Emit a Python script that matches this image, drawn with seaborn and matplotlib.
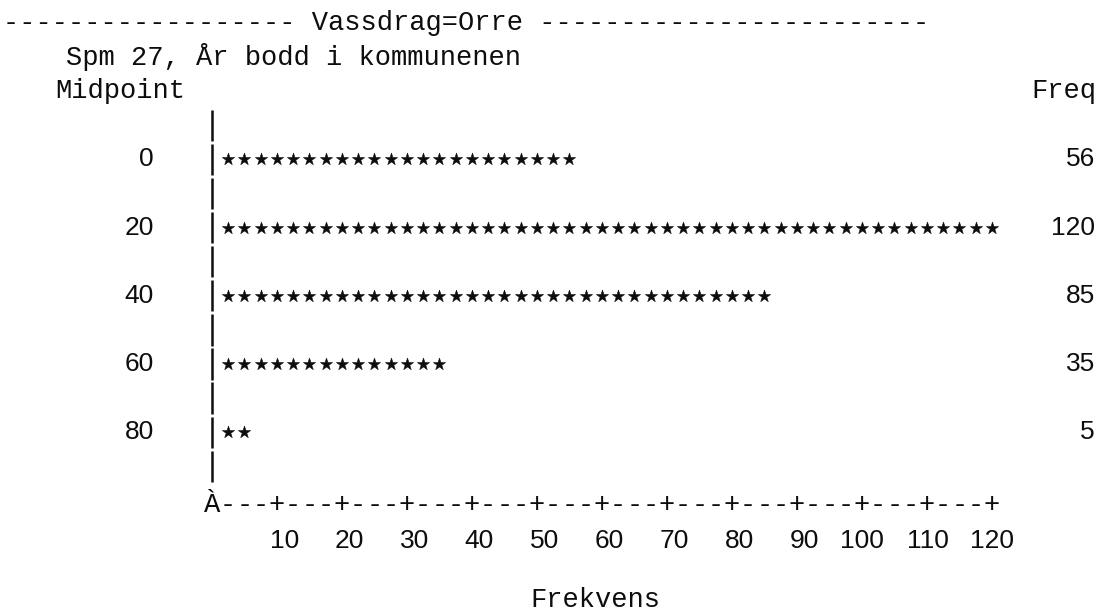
import matplotlib
matplotlib.use("Agg")
import matplotlib.pyplot as plt
import numpy as np
import pandas as pd
import seaborn as sns

# --- chart data -------------------------------------------------------------
midpoints = [0, 20, 40, 60, 80]
freqs = [56, 120, 85, 35, 5]
x_ticks = [10, 20, 30, 40, 50, 60, 70, 80, 90, 100, 110, 120]
group_title = "Vassdrag=Orre"
variable_label = "Spm 27, År bodd i kommunenen"
x_label = "Frekvens"
row_header = "Midpoint"
freq_header = "Freq"
units_per_symbol = 2.5   # frequency represented by one '*' / one character column

# --- styling ----------------------------------------------------------------
sns.set_theme(style="white")
MONO = ["Liberation Mono", "DejaVu Sans Mono"]
SANS = ["Liberation Sans", "DejaVu Sans"]
plt.rcParams["font.family"] = MONO
MONO_SIZE = 19.5
SANS_SIZE = 19
INK = "#0d0d0d"

W, H = 1098, 616
fig = plt.figure(figsize=(W / 100, H / 100), dpi=100)
ax = fig.add_axes([0, 0, 1, 1])

# pixel layout of the text grid (one character column = 2.5 units, one line = 10 units)
X0_PX, PX_PER_X = 212.0, 6.5
Y0_PX, PX_PER_Y = 159.4, 3.41
LINE = 10


def px_x(p):
    return (p - X0_PX) / PX_PER_X


# --- the star bars ----------------------------------------------------------
rows = []
for mid, f in zip(midpoints, freqs):
    n = int(round(f / units_per_symbol))
    for k in range(1, n + 1):
        rows.append({"freq_pos": k * units_per_symbol, "midpoint": mid})
stars = pd.DataFrame(rows)

sns.scatterplot(data=stars, x="freq_pos", y="midpoint", marker="*", s=85,
                color=INK, edgecolor=INK, linewidth=0.4, legend=False, ax=ax)

# --- vertical axis drawn as stacked '|' strokes -----------------------------
seg_centres = np.arange(midpoints[0] - LINE, midpoints[-1] + 2 * LINE, LINE)
ax.vlines(np.zeros_like(seg_centres, dtype=float), seg_centres - 4.6, seg_centres + 4.6,
          color=INK, lw=1.8)

# --- horizontal axis: À---+---+ ... ------------------------------------------
axis_y = midpoints[-1] + 2 * LINE + 1.4
n_cols = int(round(max(x_ticks) / units_per_symbol))
cols_per_tick = int(round((x_ticks[1] - x_ticks[0]) / units_per_symbol))
for c in range(0, n_cols + 1):
    ch = "À" if c == 0 else ("+" if c % cols_per_tick == 0 else "-")
    ax.text(c * units_per_symbol, axis_y, ch, ha="center", va="center",
            fontsize=MONO_SIZE, family=MONO, color=INK)

# tick labels
for t in x_ticks:
    ax.text(t + 3.4, axis_y + LINE + 0.6, str(t), ha="right", va="center",
            fontsize=SANS_SIZE, family=SANS, color=INK)

# midpoint labels and frequency column
for mid, f in zip(midpoints, freqs):
    ax.text(px_x(154), mid, str(mid), ha="right", va="center",
            fontsize=SANS_SIZE, family=SANS, color=INK)
    ax.text(px_x(1095), mid, str(f), ha="right", va="center",
            fontsize=SANS_SIZE, family=SANS, color=INK)

# --- header lines and labels ------------------------------------------------
header = "-" * 18 + " " + group_title + " " + "-" * 24
ax.text(px_x(3), midpoints[0] - 4 * LINE, header, ha="left", va="center",
        fontsize=MONO_SIZE, family=MONO, color=INK)
ax.text(px_x(66), midpoints[0] - 3 * LINE, variable_label, ha="left", va="center",
        fontsize=MONO_SIZE, family=MONO, color=INK)
ax.text(px_x(55), midpoints[0] - 2 * LINE, row_header, ha="left", va="center",
        fontsize=MONO_SIZE, family=MONO, color=INK)
ax.text(px_x(1096), midpoints[0] - 2 * LINE, freq_header, ha="right", va="center",
        fontsize=MONO_SIZE, family=MONO, color=INK)
ax.text(px_x(530), axis_y + 3 * LINE - 2.2, x_label, ha="left", va="center",
        fontsize=MONO_SIZE, family=MONO, color=INK)

ax.set_xlim(-X0_PX / PX_PER_X, (W - X0_PX) / PX_PER_X)
ax.set_ylim((H - Y0_PX) / PX_PER_Y, -Y0_PX / PX_PER_Y)
ax.axis("off")

fig.savefig("out.png", dpi=100, facecolor="white")
